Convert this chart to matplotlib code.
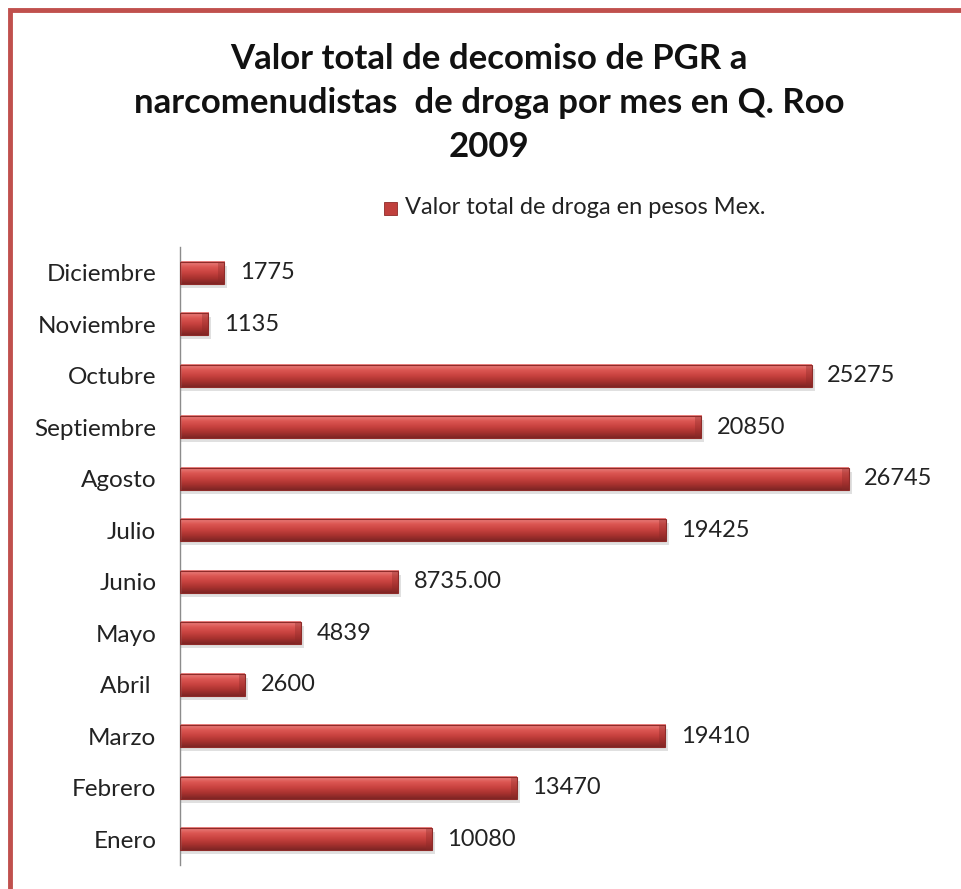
import matplotlib
matplotlib.use("Agg")
import matplotlib.pyplot as plt
import numpy as np
from matplotlib.patches import Rectangle

# data
meses = ["Enero", "Febrero", "Marzo", "Abril ", "Mayo", "Junio", "Julio",
         "Agosto", "Septiembre", "Octubre", "Noviembre", "Diciembre"]
valores = [10080, 13470, 19410, 2600, 4839, 8735.00, 19425,
           26745, 20850, 25275, 1135, 1775]
etiquetas = ["10080", "13470", "19410", "2600", "4839", "8735.00", "19425",
             "26745", "20850", "25275", "1135", "1775"]
serie = "Valor total de droga en pesos Mex."
titulo = "Valor total de decomiso de PGR a\nnarcomenudistas  de droga por mes en Q. Roo\n2009"

plt.rcParams['font.family'] = ['Lato', 'DejaVu Sans']

fig = plt.figure(figsize=(9.62, 8.89), dpi=100)
W, H = 962, 889

# chart frame (cut off at right / bottom like the screenshot)
fig.patches.append(Rectangle((10 / W, -0.05), 1.1, 1 - 10 / H + 0.05,
                             transform=fig.transFigure, fill=False,
                             edgecolor="#c0504d", linewidth=3.5))

ax = fig.add_axes([180 / W, 1 - 865 / H, (930 - 180) / W, (865 - 247) / H])
y = np.arange(len(meses))
h = 0.43

# gradient for the cylinder-ish bars
grad = np.linspace(0, 1, 64).reshape(-1, 1)
cmap = matplotlib.colors.LinearSegmentedColormap.from_list(
    "barra", ["#ec8583", "#dc5753", "#c8423f", "#a8322f", "#7e2524"])

for yi, v in zip(y, valores):
    # soft shadow
    ax.add_patch(Rectangle((0, yi - h / 2 - 0.08), v + 120, h,
                           facecolor="#000000", alpha=0.12, linewidth=0, zorder=1))
    ax.imshow(grad, extent=(0, v, yi - h / 2, yi + h / 2), cmap=cmap,
              aspect="auto", origin="upper", zorder=2)
    # bevel at the end
    ax.add_patch(Rectangle((v - 250, yi - h / 2), 250, h,
                           facecolor="#8a2a28", alpha=0.35, linewidth=0, zorder=3))
    ax.add_patch(Rectangle((0, yi - h / 2), v, h, fill=False,
                           edgecolor="#8e2b29", linewidth=0.8, zorder=4))

for yi, v, t in zip(y, valores, etiquetas):
    ax.text(v + 620, yi, t, va="center", ha="left", fontsize=17, color="#222222")

ax.set_xlim(0, 30000)
ax.set_ylim(-0.5, len(meses) - 0.5)
ax.set_yticks(y)
ax.set_yticklabels(meses, fontsize=17.5, color="#222222")
ax.tick_params(axis="y", length=0, pad=17)
ax.set_xticks([])
for s in ["top", "right", "bottom"]:
    ax.spines[s].set_visible(False)
ax.spines["left"].set_color("#8c8c8c")
ax.spines["left"].set_linewidth(1)

fig.text(489 / W, 1 - 103 / H, titulo, ha="center", va="center",
         fontsize=25, fontweight="bold", linespacing=1.45, color="#111111")

# legend
fig.patches.append(Rectangle((384 / W, 1 - 215 / H), 13 / W, 13 / H,
                             transform=fig.transFigure, facecolor="#c0403d",
                             edgecolor="#8e2b29", linewidth=0.6))
fig.text(405 / W, 1 - 208 / H, serie, ha="left", va="center",
         fontsize=17, color="#222222")

fig.savefig("out.png", dpi=100)
